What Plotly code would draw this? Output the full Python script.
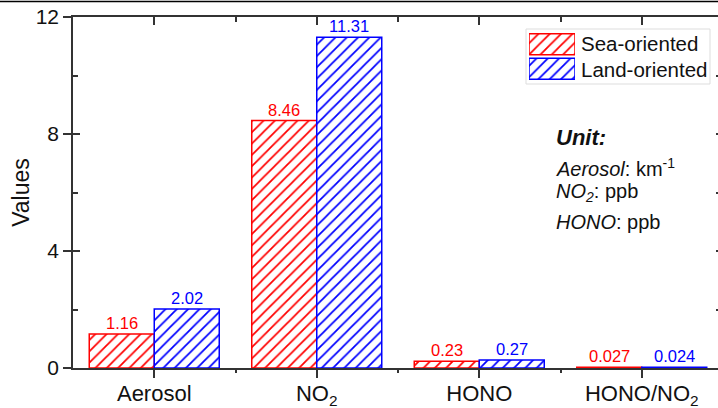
import plotly.graph_objects as go

# ---- data ----
categories = ["Aerosol", "NO<sub>2</sub>", "HONO", "HONO/NO<sub>2</sub>"]
series_names = ["Sea-oriented", "Land-oriented"]
sea_values = [1.16, 8.46, 0.23, 0.027]
land_values = [2.02, 11.31, 0.27, 0.024]
y_ticks = [0, 4, 8, 12]
y_minor_ticks = [2, 6, 10]
unit_lines = ["<b><i>Unit:</i></b>",
              "<i>Aerosol</i>: km<sup>-1</sup>",
              "<i>NO<sub>2</sub></i>: ppb",
              "<i>HONO</i>: ppb"]

# ---- layout constants (pixels) ----
W, H = 718, 408
ML, MR, MT, MB = 73, 0, 17, 40
PW, PH = W - ML - MR, H - MT - MB
FONT = "Arial, Liberation Sans, sans-serif"
RED, BLUE = "#ff0000", "#0000ff"
AX = "#333333"
TXT = "#111111"
colors = [RED, BLUE]
BARGAP = 0.2


def px(xp):
    return (xp - ML) / PW


def py(yp):
    return (H - MB - yp) / PH


xpos = list(range(len(categories)))
x_minor = [i + 0.5 for i in xpos[:-1]]
xrange = [-0.5, -0.5 + PW / 162.5]

hatch = dict(shape="/", bgcolor="white", size=8, solidity=0.22, fgopacity=1)

fig = go.Figure()
n_series = len(series_names)
bar_w = (1 - BARGAP) / n_series
for k, (name, vals, col) in enumerate(zip(series_names, [sea_values, land_values], colors)):
    fig.add_trace(go.Bar(
        x=xpos, y=vals, name=name,
        marker=dict(color="white",
                    line=dict(color=col, width=1.5),
                    pattern=dict(hatch, fgcolor=col)),
        showlegend=False,
    ))
    off = (k - (n_series - 1) / 2) * bar_w
    for xi, v in zip(xpos, vals):
        fig.add_annotation(x=xi + off, y=v, xref="x", yref="y", text=f"{v:g}",
                           showarrow=False, xanchor="center", yanchor="bottom", yshift=0,
                           font=dict(color=col, size=16.5, family=FONT))

# custom legend swatches (hatched boxes) on a tiny helper axis
for i, (name, col) in enumerate(zip(series_names, colors)):
    fig.add_trace(go.Bar(
        y=[n_series - 1 - i], x=[1], orientation="h",
        xaxis="x3", yaxis="y3", width=0.86,
        marker=dict(color="white", line=dict(color=col, width=1.5),
                    pattern=dict(hatch, fgcolor=col)),
        showlegend=False, hoverinfo="skip",
    ))
    fig.add_annotation(x=px(579), y=py(44 + 26 * i), xref="paper", yref="paper",
                       text=name, showarrow=False, xanchor="left", yanchor="middle",
                       font=dict(size=20.5, family=FONT, color=TXT))

# helper invisible traces for extra tick axes
fig.add_trace(go.Scatter(x=[None], y=[None], xaxis="x2", yaxis="y", showlegend=False, hoverinfo="skip"))
fig.add_trace(go.Scatter(x=[None], y=[None], yaxis="y4", showlegend=False, hoverinfo="skip"))
fig.add_trace(go.Scatter(x=[None], y=[None], yaxis="y2", showlegend=False, hoverinfo="skip"))

fig.update_layout(
    width=W, height=H,
    margin=dict(l=ML, r=MR, t=MT, b=MB, autoexpand=False),
    paper_bgcolor="white", plot_bgcolor="white",
    barmode="group", bargap=BARGAP, bargroupgap=0,
    font=dict(family=FONT, color=TXT),
    xaxis=dict(range=xrange, tickvals=xpos, ticktext=categories, automargin=False,
               showline=True, linecolor=AX, linewidth=1.5,
               ticks="outside", ticklen=8, tickwidth=1.5, tickcolor=AX, ticklabelstandoff=-3,
               minor=dict(tickmode="array", tickvals=x_minor, ticks="outside", ticklen=3, tickwidth=1.5, tickcolor=AX),
               tickfont=dict(size=22, family=FONT, color=TXT),
               showgrid=False, zeroline=False, fixedrange=True),
    xaxis2=dict(range=xrange, overlaying="x", side="top", anchor="y", automargin=False,
                tickvals=xpos, showticklabels=False,
                showline=True, linecolor=AX, linewidth=1.5,
                ticks="inside", ticklen=8, tickwidth=1.5, tickcolor=AX,
                minor=dict(tickmode="array", tickvals=x_minor, ticks="inside", ticklen=5, tickwidth=1.5, tickcolor=AX),
                showgrid=False, zeroline=False),
    yaxis=dict(range=[0, 12], tickvals=y_ticks, automargin=False,
               showline=True, linecolor=AX, linewidth=1.5,
               ticks="outside", ticklen=8, tickwidth=1.5, tickcolor=AX,
               minor=dict(tickmode="array", tickvals=y_minor_ticks, ticks="inside", ticklen=5, tickwidth=1.5, tickcolor=AX),
               tickfont=dict(size=21, family=FONT, color=TXT),
               title=dict(text="Values", font=dict(size=23, family=FONT, color=TXT), standoff=0),
               showgrid=False, zeroline=False),
    yaxis2=dict(range=[0, 12], overlaying="y", side="right", anchor="x", automargin=False,
                tickvals=y_ticks + y_minor_ticks, showticklabels=False, showline=False,
                ticks="inside", ticklen=2, tickwidth=1.5, tickcolor=AX,
                showgrid=False, zeroline=False),
    yaxis4=dict(range=[0, 12], overlaying="y", side="left", anchor="x", automargin=False,
                tickvals=y_ticks, showticklabels=False, showline=False,
                ticks="inside", ticklen=7, tickwidth=1.5, tickcolor=AX,
                showgrid=False, zeroline=False),
    xaxis3=dict(domain=[px(529), px(575)], range=[0, 1], anchor="y3", visible=False, fixedrange=True),
    yaxis3=dict(domain=[py(81), py(32)], range=[-0.5, 1.5], anchor="x3", visible=False, fixedrange=True),
)

# legend frame
fig.add_shape(type="rect", xref="paper", yref="paper",
              x0=px(526), x1=px(710), y0=py(84), y1=py(29),
              line=dict(color="#dddddd", width=1), fillcolor="white", layer="below")

# top border line of the figure
fig.add_shape(type="line", xref="paper", yref="paper",
              x0=px(0), x1=px(W), y0=py(1.5), y1=py(1.5),
              line=dict(color="black", width=1.5))

# unit annotation block
unit_y = [137, 167, 193, 222]
unit_size = [22, 20, 20, 20]
for txt, yy, fs in zip(unit_lines, unit_y, unit_size):
    fig.add_annotation(x=px(554), y=py(yy), xref="paper", yref="paper", text=txt,
                       showarrow=False, xanchor="left", yanchor="middle",
                       font=dict(size=fs, family=FONT, color=TXT))

fig.write_html("out.html", config={"displayModeBar": False},
               post_script="document.body.style.margin='0';document.body.style.overflow='hidden';")
